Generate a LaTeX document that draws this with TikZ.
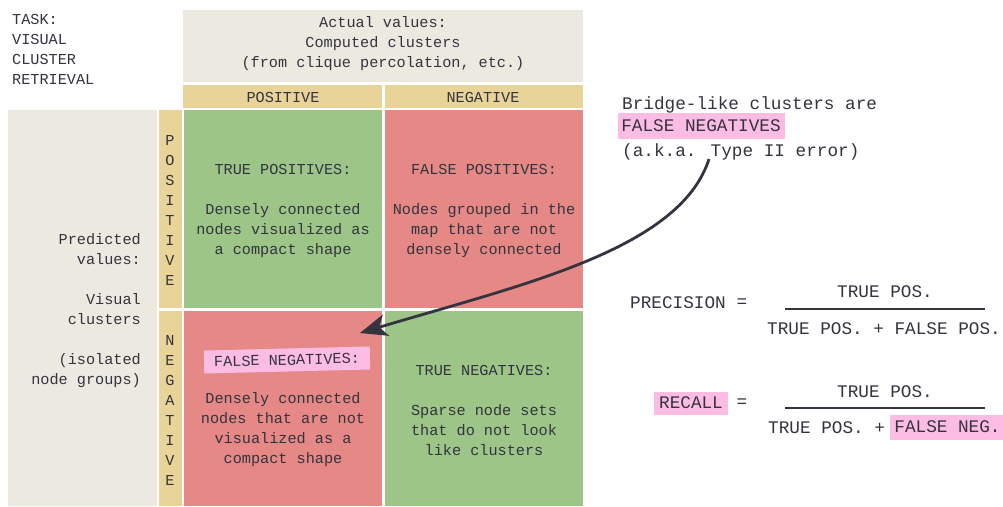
\documentclass[tikz,border=0pt]{standalone}
\usepackage{fontspec}
\newfontfamily\mono{Liberation Mono}
\usetikzlibrary{arrows.meta}
\definecolor{ink}{HTML}{33343F}
\definecolor{paper}{HTML}{ECE9E1}
\definecolor{tan}{HTML}{E8D498}
\definecolor{cgreen}{HTML}{9CC587}
\definecolor{cred}{HTML}{E58886}
\definecolor{hl}{HTML}{FCBCE4}
\begin{document}
\begin{tikzpicture}[x=1pt,y=-1pt,
  cell/.style={inner sep=0pt, outer sep=0pt, anchor=north west},
  mid/.style={font=\mono\fontsize{15.2}{20}\selectfont, text=ink, align=center, inner sep=0pt},
  big/.style={font=\mono\fontsize{17.7}{24}\selectfont, text=ink, inner sep=0pt},
  hlbox/.style={fill=hl, inner sep=0pt},
  bar/.style={draw=ink, line width=1.3pt},
  pointer/.style={draw=ink, line width=2.8pt, -{Stealth[length=27pt,width=22pt,inset=7pt]}}]
\fill[white] (0,0) rectangle (1003,506);
\useasboundingbox (0,0) rectangle (1003,506);
% backgrounds
\node[cell, fill=paper, minimum width=400pt, minimum height=72pt] (head) at (183,10) {};
\node[cell, fill=tan, minimum width=199pt, minimum height=23pt] (colpos) at (183,85) {};
\node[cell, fill=tan, minimum width=198pt, minimum height=23pt] (colneg) at (385,85) {};
\node[cell, fill=paper, minimum width=149pt, minimum height=396pt] (left) at (8,110) {};
\node[cell, fill=tan, minimum width=23pt, minimum height=198pt] (rowpos) at (159,110) {};
\node[cell, fill=tan, minimum width=23pt, minimum height=195pt] (rowneg) at (159,311) {};
\node[cell, fill=cgreen, minimum width=198pt, minimum height=198pt] (tp) at (184,110) {};
\node[cell, fill=cred, minimum width=198pt, minimum height=198pt] (fp) at (385,110) {};
\node[cell, fill=cred, minimum width=198pt, minimum height=195pt] (fn) at (184,311) {};
\node[cell, fill=cgreen, minimum width=198pt, minimum height=195pt] (tn) at (385,311) {};
% texts
\node[mid, align=left, anchor=west] (task) at (12,49) {TASK:\\VISUAL\\CLUSTER\\RETRIEVAL};
\node[mid] (headtxt) at (383,44) {Actual values:\\Computed clusters\\(from clique percolation, etc.)};
\node[mid] (colpostxt) at (283,97) {POSITIVE};
\node[mid] (colnegtxt) at (483,97) {NEGATIVE};
\node[mid] (rowpostxt) at (170,210) {P\\O\\S\\I\\T\\I\\V\\E};
\node[mid] (rownegtxt) at (170,410) {N\\E\\G\\A\\T\\I\\V\\E};
\node[mid, align=right, anchor=east] (lefttxt) at (141,311) {Predicted\\values:\\[20pt]Visual\\clusters\\[20pt](isolated\\node groups)};
\node[mid] (tptxt) at (283,211) {TRUE POSITIVES:\\[20pt]Densely connected\\nodes visualized as\\a compact shape};
\node[mid] (fptxt) at (484,211) {FALSE POSITIVES:\\[20pt]Nodes grouped in the\\map that are not\\densely connected};
\node[mid, hlbox, rotate=1.4, minimum width=166pt, minimum height=23pt] (fnhead) at (287,360) {FALSE NEGATIVES:};
\node[mid] (fntxt) at (283,430) {Densely connected\\nodes that are not\\visualized as a\\compact shape};
\node[mid] (tntxt) at (484,410) {TRUE NEGATIVES:\\[20pt]Sparse node sets\\that do not look\\like clusters};
% right annotation
\node[big, anchor=base west] (bridge1) at (622,109) {Bridge-like clusters are};
\node[big, hlbox, minimum width=167pt, minimum height=26pt] (bridge2) at (701,126) {FALSE NEGATIVES};
\node[big, anchor=base west] (bridge3) at (622,156) {(a.k.a. Type II error)};
\coordinate (arrstart) at (709,159);
\coordinate (arrend) at (360,333);
\draw[pointer] (arrstart) .. controls (680,250) and (520,285) .. (arrend);
% precision
\node[big, anchor=west] (prec) at (630,303) {PRECISION};
\node[big] (preceq) at (742,303) {=};
\node[big] (precnum) at (885,292) {TRUE POS.};
\coordinate (pbarl) at (785,309);
\coordinate (pbarr) at (985,309);
\draw[bar] (pbarl) -- (pbarr);
\node[big] (precden) at (884,329) {TRUE POS. + FALSE POS.};
% recall
\node[big, hlbox, minimum width=74pt, minimum height=23pt] (rec) at (691,403) {RECALL};
\node[big] (receq) at (742,403) {=};
\node[big] (recnum) at (885,392) {TRUE POS.};
\coordinate (rbarl) at (785,408);
\coordinate (rbarr) at (985,408);
\draw[bar] (rbarl) -- (rbarr);
\node[big, anchor=west] (recden) at (768,428) {TRUE POS. +};
\node[big, hlbox, minimum width=115pt, minimum height=25pt] (recfn) at (947.5,427) {FALSE NEG.};
\end{tikzpicture}
\end{document}
